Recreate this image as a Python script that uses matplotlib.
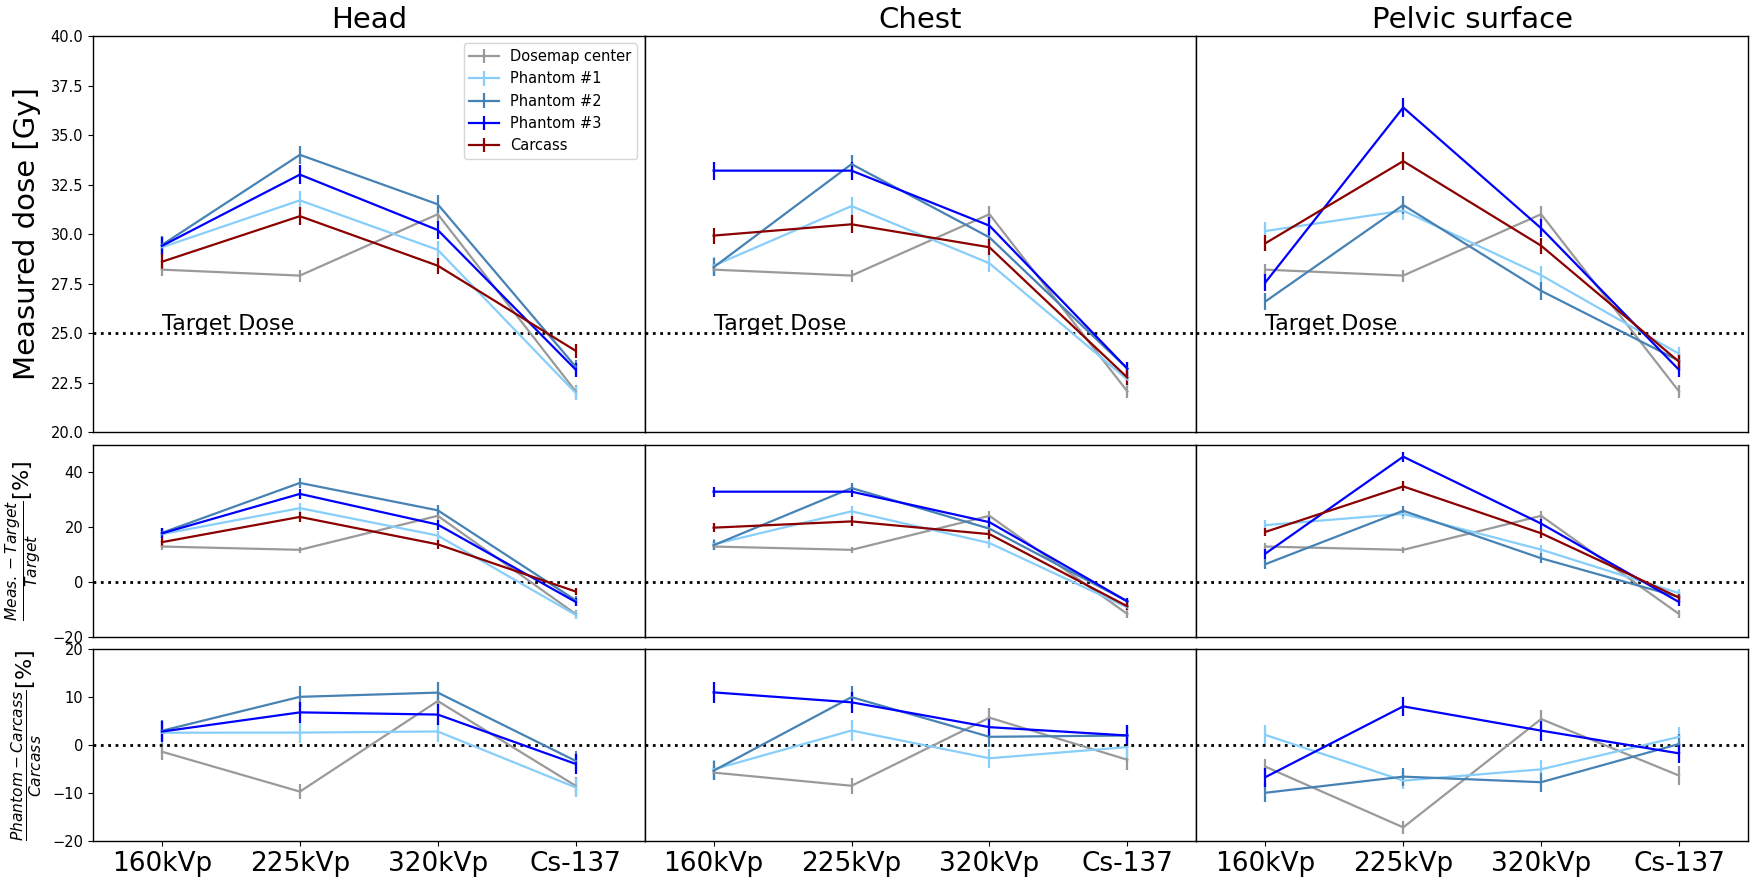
import matplotlib
matplotlib.use("Agg")
import matplotlib.pyplot as plt
import numpy as np

# ---------------- data ----------------
categories = ["160kVp", "225kVp", "320kVp", "Cs-137"]
regions = ["Head", "Chest", "Pelvic surface"]
series_names = ["Dosemap center", "Phantom #1", "Phantom #2", "Phantom #3", "Carcass"]
series_colors = ["#9a9a9a", "#87CEFA", "#4682B4", "#0000FF", "#8B0000"]
target_dose = 25.0

# measured dose [Gy]
dosemap_center = [28.2, 27.9, 31.0, 22.05]

head_p1 = [29.33, 31.7, 29.2, 21.97]
head_p2 = [29.45, 34.0, 31.5, 23.3]
head_p3 = [29.4, 33.0, 30.2, 23.15]
head_carcass = [28.6, 30.9, 28.4, 24.1]

chest_p1 = [28.4, 31.41, 28.52, 22.65]
chest_p2 = [28.32, 33.53, 29.83, 23.2]
chest_p3 = [33.2, 33.2, 30.42, 23.2]
chest_carcass = [29.92, 30.49, 29.33, 22.75]

pelvic_p1 = [30.15, 31.18, 27.92, 23.95]
pelvic_p2 = [26.59, 31.46, 27.13, 23.6]
pelvic_p3 = [27.55, 36.39, 30.29, 23.14]
pelvic_carcass = [29.53, 33.68, 29.41, 23.55]

# uncertainties [Gy]
dosemap_err = [0.3, 0.3, 0.4, 0.33]
p1_err = [0.45, 0.45, 0.45, 0.35]
p2_err = [0.45, 0.46, 0.45, 0.35]
p3_err = [0.45, 0.46, 0.45, 0.35]
carcass_err = [0.4, 0.45, 0.4, 0.36]

region_values = {
    "Head": [dosemap_center, head_p1, head_p2, head_p3, head_carcass],
    "Chest": [dosemap_center, chest_p1, chest_p2, chest_p3, chest_carcass],
    "Pelvic surface": [dosemap_center, pelvic_p1, pelvic_p2, pelvic_p3, pelvic_carcass],
}
series_errs = [dosemap_err, p1_err, p2_err, p3_err, carcass_err]

# ---------------- figure ----------------
W, H = 1754, 884
fig = plt.figure(figsize=(W / 100, H / 100), dpi=100)
gs = fig.add_gridspec(3, 3, height_ratios=[396, 192, 192],
                      left=93 / W, right=1748 / W, top=1 - 36 / H, bottom=1 - 841 / H,
                      wspace=0, hspace=0.048)

x = np.arange(len(categories))
lw = 1.6

axes = np.empty((3, 3), dtype=object)
for r in range(3):
    for c in range(3):
        axes[r, c] = fig.add_subplot(gs[r, c])

for c, region in enumerate(regions):
    vals = [np.array(v, dtype=float) for v in region_values[region]]
    errs = [np.array(e, dtype=float) for e in series_errs]
    carcass = vals[-1]
    carcass_e = errs[-1]

    ax0, ax1, ax2 = axes[0, c], axes[1, c], axes[2, c]

    # top: measured dose
    for v, e, name, col in zip(vals, errs, series_names, series_colors):
        ax0.errorbar(x, v, yerr=e, color=col, lw=lw, elinewidth=lw, capsize=0, label=name)
    ax0.axhline(target_dose, color="black", ls=":", lw=2)
    ax0.text(0, 25.14, "Target Dose", fontsize=16, ha="left", va="baseline")
    ax0.set_ylim(20, 40)
    ax0.set_title(region, fontsize=21, pad=6)

    # middle: relative to target
    for v, e, name, col in zip(vals, errs, series_names, series_colors):
        rel = (v - target_dose) / target_dose * 100
        rel_e = e / target_dose * 100
        ax1.errorbar(x, rel, yerr=rel_e, color=col, lw=lw, elinewidth=lw, capsize=0)
    ax1.axhline(0, color="black", ls=":", lw=2)
    ax1.set_ylim(-20, 50)

    # bottom: relative to carcass
    for v, e, name, col in zip(vals[:-1], errs[:-1], series_names[:-1], series_colors[:-1]):
        ratio = v / carcass
        rel = (ratio - 1) * 100
        rel_e = ratio * np.sqrt((e / v) ** 2 + (carcass_e / carcass) ** 2) * 100
        ax2.errorbar(x, rel, yerr=rel_e, color=col, lw=lw, elinewidth=lw, capsize=0)
    ax2.axhline(0, color="black", ls=":", lw=2)
    ax2.set_ylim(-20, 20)

for r in range(3):
    for c in range(3):
        ax = axes[r, c]
        ax.set_xlim(-0.5, 3.5)
        ax.set_xticks(x)
        for s in ax.spines.values():
            s.set_linewidth(1.0)
        if r < 2:
            ax.tick_params(axis="x", bottom=False, labelbottom=False)
        else:
            ax.set_xticklabels(categories, fontsize=19)
        if c > 0:
            ax.tick_params(axis="y", left=False, labelleft=False)
        else:
            ax.tick_params(axis="y", labelsize=10.5)

top_ticks = np.arange(20, 40.1, 2.5)
for c in range(3):
    axes[0, c].set_yticks(top_ticks)
    axes[1, c].set_yticks([-20, 0, 20, 40])
    axes[2, c].set_yticks([-20, -10, 0, 10, 20])
axes[0, 0].set_yticklabels([f"{t:.1f}" for t in top_ticks])

axes[0, 0].set_ylabel("Measured dose [Gy]", fontsize=21)
axes[1, 0].set_ylabel(r"$\frac{Meas. - Target}{Target}$[%]", fontsize=16)
axes[2, 0].set_ylabel(r"$\frac{Phantom - Carcass}{Carcass}$[%]", fontsize=16)
axes[0, 0].yaxis.set_label_coords(-0.095, 0.5)
axes[1, 0].yaxis.set_label_coords(-0.088, 0.5)
axes[2, 0].yaxis.set_label_coords(-0.088, 0.5)

axes[0, 0].legend(loc="upper right", fontsize=10.5)

fig.savefig("out.png", dpi=100)
